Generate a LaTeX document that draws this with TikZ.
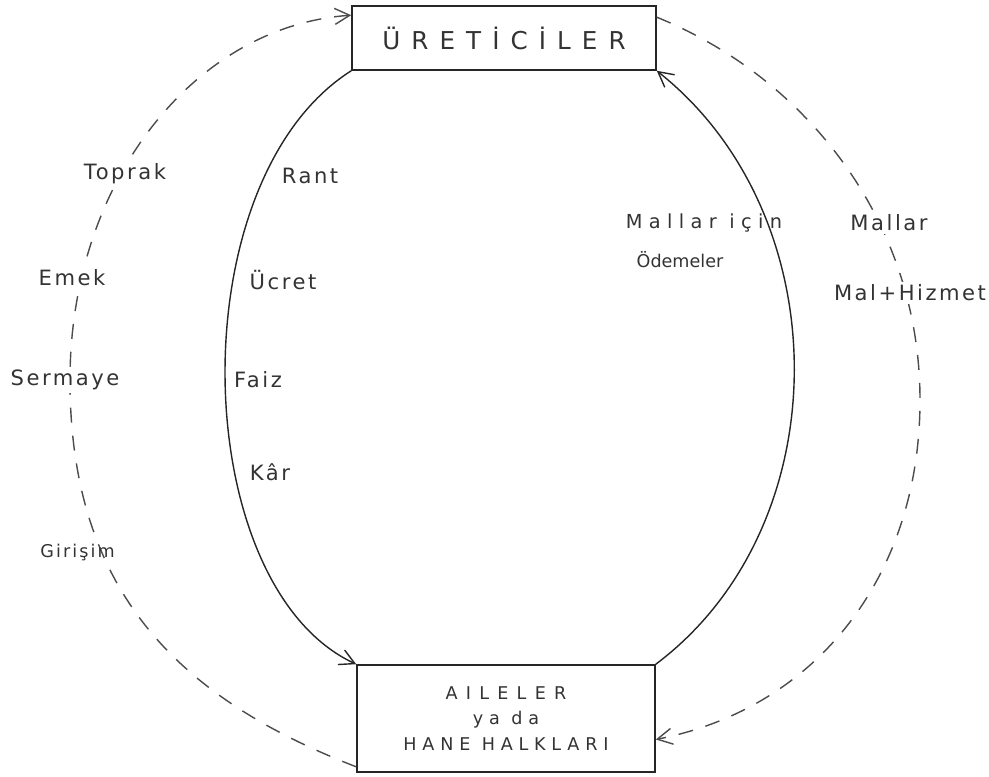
\documentclass[tikz,border=0pt]{standalone}
\usepackage{fontspec}
\setmainfont{DejaVu Sans}
\newfontfamily\boxfont[LetterSpace=33]{DejaVu Sans}
\newfontfamily\titlefont[LetterSpace=45]{DejaVu Sans}
\newfontfamily\lblfont[LetterSpace=12]{DejaVu Sans}
\newfontfamily\widefont[LetterSpace=33]{DejaVu Sans}
\usetikzlibrary{arrows.meta, positioning}

\begin{document}
\begin{tikzpicture}[
  >={Straight Barb[length=3mm, width=3.2mm]},
  every node/.style={font=\lblfont\fontsize{12}{14}\selectfont, text=black!80},
  sector/.style={draw=black!85, line width=0.9pt, rectangle, inner sep=2pt},
  moneyflow/.style={->, draw=black!85, line width=0.8pt},
  realflow/.style={->, draw=black!70, line width=0.8pt, dash pattern=on 3mm off 2.6mm},
  onflow/.style={fill=white, inner sep=1.5pt},
]
\useasboundingbox (0,0) rectangle (19.78,15.52);

% the two sectors
\node[sector, minimum width=6.08cm, minimum height=1.28cm,
      font=\titlefont\fontsize{14}{16}\selectfont] (ureticiler) at (10.08,14.76) {ÜRETİCİLER};
\node[sector, minimum width=5.96cm, minimum height=2.14cm, align=center,
      font=\boxfont\fontsize{10}{14.5}\selectfont] (aileler) at (10.12,1.15)
  {{\addfontfeature{LetterSpace=47}AILELER}\\ya da\\HANE HALKLARI};

% payments (solid, inner ring)
\draw[moneyflow] (ureticiler.south west) .. controls (3.55,11.9) and (3.75,3.8) .. (aileler.north west);
\draw[moneyflow] (aileler.north east) .. controls (16.8,5.0) and (16.8,11.2) .. (ureticiler.south east);

% real flows (dashed, outer ring)
\draw[realflow] ([yshift=1.2mm]aileler.south west) .. controls (3.54,1.57) and (1.4,3.72) .. (1.4,7.92)
  .. controls (1.4,11.9) and (3.9,15.0) .. ([yshift=-2mm]ureticiler.north west);
\draw[realflow] ([yshift=-2.4mm]ureticiler.north east) .. controls (16.2,13.93) and (18.4,11.02) .. (18.4,7.52)
  .. controls (18.4,4.02) and (16.36,1.37) .. ([yshift=-4.2mm]aileler.east);

% factor labels, left (sitting on the dashed flow)
\node[onflow] (toprak)  at (2.5,12.04) {Toprak};
\node[onflow] (emek)    at (1.44,9.96) {Emek};
\node[onflow] (sermaye) at (1.3,7.92)  {Sermaye};
\node[font=\lblfont\fontsize{10}{12}\selectfont] (girisim) at (1.55,4.46) {Girişim};

% factor incomes
\node (rant)  at (6.2,12.0)  {Rant};
\node (ucret) at (5.66,9.92) {Ücret};
\node (faiz)  at (5.16,7.92) {Faiz};
\node (kar)   at (5.4,6.08)  {Kâr};

% right side
\node[font=\widefont\fontsize{11}{13}\selectfont] (mallaricin) at (14.08,11.06) {Mallar için};
\node[font=\rmfamily\fontsize{10}{12}\selectfont] (odemeler) at (13.6,10.32) {Ödemeler};
\node[onflow] (mallar) at (17.78,11.06) {Mallar};
\node[onflow] (malhizmet) at (18.2,9.66) {Mal+Hizmet};
\end{tikzpicture}
\end{document}
